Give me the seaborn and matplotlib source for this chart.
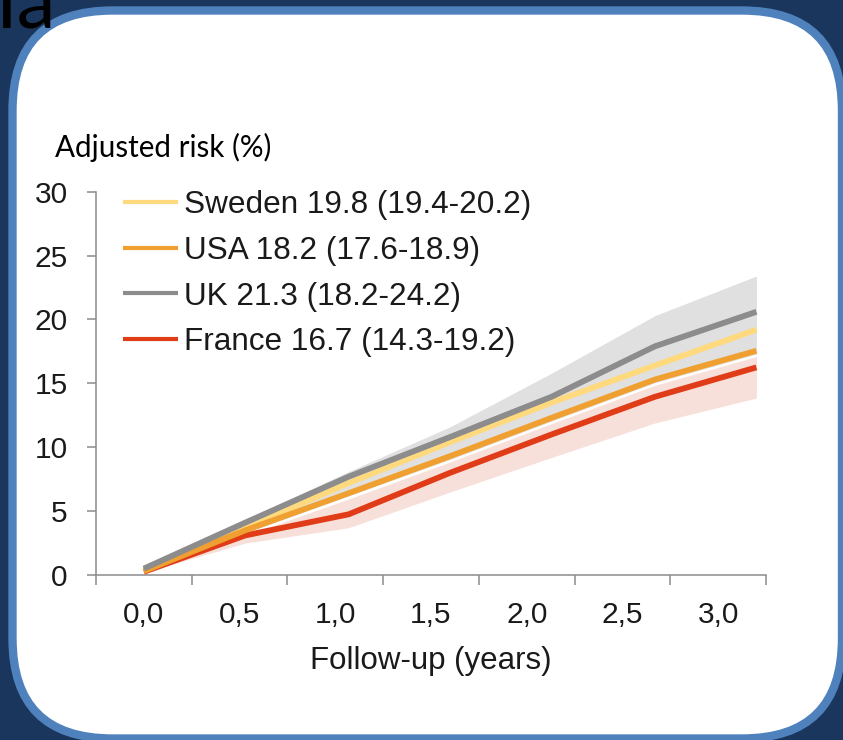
import matplotlib
matplotlib.use("Agg")
import matplotlib.pyplot as plt
from matplotlib.patches import FancyBboxPatch
from matplotlib.transforms import IdentityTransform
from matplotlib.lines import Line2D
import numpy as np
import pandas as pd
import seaborn as sns

# Follow-up time (years) and adjusted cumulative risk (%) per country
years = [0.0, 0.53, 1.07, 1.6, 2.13, 2.67, 3.2]
sweden = [0.4, 3.7, 7.2, 10.4, 13.5, 16.4, 19.2]
usa = [0.3, 3.5, 6.4, 9.3, 12.3, 15.3, 17.55]
uk = [0.5, 4.1, 7.7, 10.8, 13.95, 17.9, 20.6]
france = [0.25, 3.1, 4.75, 8.0, 11.0, 13.95, 16.25]

# Confidence bands for UK and France
uk_low = [0.3, 3.3, 6.2, 9.05, 12.05, 15.05, 17.3]
uk_high = [0.6, 4.3, 8.1, 11.6, 15.8, 20.3, 23.4]
france_low = [0.2, 2.5, 3.7, 6.5, 9.2, 11.9, 13.85]
france_high = [0.25, 3.1, 5.95, 8.85, 11.85, 14.85, 17.1]

countries = ["Sweden", "USA", "UK", "France"]
legend_labels = [
    "Sweden 19.8 (19.4-20.2)",
    "USA 18.2 (17.6-18.9)",
    "UK 21.3 (18.2-24.2)",
    "France 16.7 (14.3-19.2)",
]
colors = {"Sweden": "#ffd97d", "USA": "#f0a030", "UK": "#8c8c8c", "France": "#e03c18"}

x_ticks = [0.0, 0.5, 1.0, 1.5, 2.0, 2.5, 3.0]
x_tick_labels = ["0,0", "0,5", "1,0", "1,5", "2,0", "2,5", "3,0"]
y_ticks = [0, 5, 10, 15, 20, 25, 30]

df = pd.DataFrame({
    "year": years * 4,
    "risk": sweden + usa + uk + france,
    "country": sum([[c] * len(years) for c in countries], []),
})

sns.set_style("white")
plt.rcParams["font.family"] = ["Liberation Sans", "DejaVu Sans"]
plt.rcParams["lines.solid_capstyle"] = "butt"

W, H = 843, 740
fig = plt.figure(figsize=(W / 100, H / 100), dpi=100, facecolor="#1b365d")

card = FancyBboxPatch((12.5, 1.5), 829.5, 728,
                      boxstyle="round,pad=0,rounding_size=100",
                      transform=IdentityTransform(), facecolor="white",
                      edgecolor="#4f81bd", linewidth=6, zorder=-5)
fig.add_artist(card)

fig.text(-4, 713, "Ia", transform=IdentityTransform(), fontsize=56,
         family="Lato", color="black", va="baseline", ha="left")

ax = fig.add_axes([96 / W, 165 / H, 670 / W, 383.3 / H])
ax.set_facecolor("none")

ax.fill_between(years, uk_low, uk_high, color="#e0e0e0", lw=0, zorder=1)
ax.fill_between(years, france_low, france_high, color="#f8e0da", lw=0, zorder=1.1)

sns.lineplot(data=df, x="year", y="risk", hue="country",
             hue_order=["France", "Sweden", "USA", "UK"], palette=colors,
             linewidth=4.2, legend=False, errorbar=None, ax=ax, zorder=3)

ax.set_xlim(-0.25, 3.25)
ax.set_ylim(0, 30)
ax.set_xticks(x_ticks)
ax.set_xticklabels(x_tick_labels)
ax.set_xticks(np.arange(-0.25, 3.3, 0.5), minor=True)
ax.set_yticks(y_ticks)

axis_gray = "#8c8c8c"
sns.despine(ax=ax)
for side in ("left", "bottom"):
    ax.spines[side].set_color(axis_gray)
    ax.spines[side].set_linewidth(1.1)

ax.tick_params(axis="y", left=True, direction="out", length=6.5, width=1.1,
               color=axis_gray, labelsize=21.5, pad=14, labelcolor="#1a1a1a")
ax.tick_params(axis="x", which="major", bottom=True, length=0,
               labelsize=21.5, pad=19, labelcolor="#1a1a1a")
ax.tick_params(axis="x", which="minor", bottom=True, direction="out",
               length=7.5, width=1.1, color=axis_gray)

ax.set_xlabel("Follow-up (years)", fontsize=22.5, labelpad=12, color="#1a1a1a")
ax.set_ylabel("")

fig.text(55, 583, "Adjusted risk (%)", transform=IdentityTransform(),
         fontsize=21.3, family="Lato", color="black", va="baseline", ha="left")

handles = [Line2D([], [], color=colors[c], lw=3) for c in countries]
ax.legend(handles, legend_labels, loc="upper left",
          bbox_to_anchor=(123, 550), bbox_transform=IdentityTransform(),
          frameon=False, fontsize=22.7, handlelength=1.75, handletextpad=0.2,
          labelspacing=0.5, borderpad=0, borderaxespad=0,
          labelcolor="#1a1a1a")

fig.savefig("out.png", dpi=100, facecolor=fig.get_facecolor())
